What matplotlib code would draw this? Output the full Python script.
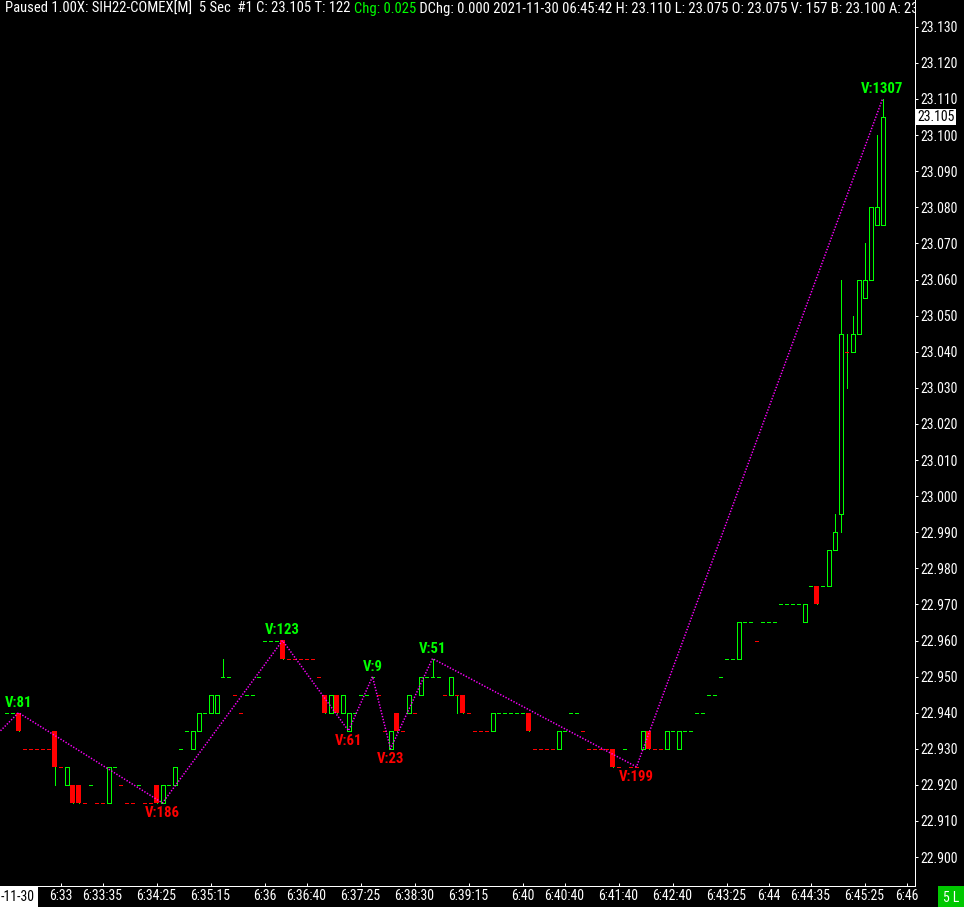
import os
import matplotlib
matplotlib.use("Agg")
import matplotlib.pyplot as plt
import matplotlib.transforms as mtransforms
from matplotlib import font_manager as fm
from matplotlib.patches import Rectangle

# 5 second bars, SIH22-COMEX, 2021-11-30 (bar index 0..146)
opens = [
    22.940, 22.940, 22.940, 22.930, 22.930, 22.930, 22.930, 22.930, 22.935, 22.925,
    22.920, 22.920, 22.920, 22.915, 22.920, 22.915, 22.915, 22.915, 22.925, 22.920,
    22.915, 22.915, 22.920, 22.915, 22.915, 22.920, 22.915, 22.920, 22.920, 22.930,
    22.935, 22.930, 22.935, 22.940, 22.940, 22.940, 22.950, 22.950, 22.945, 22.940,
    22.945, 22.945, 22.950, 22.960, 22.960, 22.960, 22.960, 22.955, 22.955, 22.955,
    22.955, 22.955, 22.950, 22.945, 22.940, 22.945, 22.940, 22.935, 22.940, 22.945,
    22.945, 22.950, 22.945, 22.935, 22.930, 22.940, 22.935, 22.940, 22.940, 22.945,
    22.950, 22.950, 22.950, 22.945, 22.945, 22.945, 22.945, 22.940, 22.935, 22.935,
    22.935, 22.935, 22.940, 22.940, 22.940, 22.940, 22.940, 22.940, 22.930, 22.930,
    22.930, 22.930, 22.930, 22.935, 22.940, 22.940, 22.935, 22.930, 22.930, 22.930,
    22.930, 22.930, 22.925, 22.930, 22.925, 22.925, 22.930, 22.935, 22.930, 22.930,
    22.930, 22.935, 22.930, 22.935, 22.935, 22.940, 22.940, 22.945, 22.945, 22.950,
    22.955, 22.955, 22.955, 22.965, 22.965, 22.960, 22.965, 22.965, 22.965, 22.970,
    22.970, 22.970, 22.970, 22.965, 22.975, 22.975, 22.975, 22.975, 22.985, 22.995,
    23.040, 23.040, 23.045, 23.055, 23.060, 23.075, 23.075,
]
highs = [
    22.940, 22.940, 22.940, 22.930, 22.930, 22.930, 22.930, 22.930, 22.935, 22.925,
    22.925, 22.920, 22.920, 22.915, 22.920, 22.915, 22.915, 22.925, 22.925, 22.920,
    22.915, 22.915, 22.920, 22.915, 22.915, 22.920, 22.920, 22.920, 22.925, 22.930,
    22.935, 22.935, 22.940, 22.940, 22.945, 22.945, 22.955, 22.950, 22.945, 22.940,
    22.945, 22.945, 22.950, 22.960, 22.960, 22.960, 22.960, 22.955, 22.955, 22.955,
    22.955, 22.955, 22.950, 22.945, 22.945, 22.945, 22.945, 22.940, 22.940, 22.945,
    22.945, 22.950, 22.945, 22.935, 22.935, 22.940, 22.935, 22.945, 22.940, 22.950,
    22.950, 22.955, 22.950, 22.945, 22.950, 22.945, 22.945, 22.940, 22.935, 22.935,
    22.935, 22.940, 22.940, 22.940, 22.940, 22.940, 22.940, 22.940, 22.930, 22.930,
    22.930, 22.930, 22.935, 22.935, 22.940, 22.940, 22.935, 22.930, 22.930, 22.930,
    22.930, 22.930, 22.925, 22.930, 22.925, 22.925, 22.935, 22.935, 22.930, 22.930,
    22.935, 22.935, 22.935, 22.935, 22.935, 22.940, 22.940, 22.945, 22.945, 22.950,
    22.955, 22.955, 22.965, 22.965, 22.965, 22.960, 22.965, 22.965, 22.965, 22.970,
    22.970, 22.970, 22.970, 22.970, 22.975, 22.975, 22.975, 22.985, 22.995, 23.060,
    23.045, 23.050, 23.060, 23.070, 23.080, 23.100, 23.110,
]
lows = [
    22.940, 22.940, 22.935, 22.930, 22.930, 22.930, 22.930, 22.930, 22.920, 22.925,
    22.920, 22.915, 22.915, 22.915, 22.920, 22.915, 22.915, 22.915, 22.925, 22.920,
    22.915, 22.915, 22.920, 22.915, 22.915, 22.915, 22.915, 22.920, 22.920, 22.930,
    22.935, 22.930, 22.935, 22.940, 22.940, 22.940, 22.950, 22.950, 22.945, 22.940,
    22.945, 22.945, 22.950, 22.960, 22.960, 22.960, 22.955, 22.955, 22.955, 22.955,
    22.955, 22.955, 22.950, 22.940, 22.940, 22.940, 22.940, 22.935, 22.940, 22.945,
    22.945, 22.950, 22.945, 22.935, 22.930, 22.935, 22.935, 22.940, 22.940, 22.945,
    22.950, 22.950, 22.950, 22.945, 22.945, 22.940, 22.940, 22.940, 22.935, 22.935,
    22.935, 22.935, 22.940, 22.940, 22.940, 22.940, 22.940, 22.935, 22.930, 22.930,
    22.930, 22.930, 22.930, 22.935, 22.940, 22.940, 22.935, 22.930, 22.930, 22.930,
    22.930, 22.925, 22.925, 22.930, 22.925, 22.925, 22.930, 22.930, 22.930, 22.930,
    22.930, 22.935, 22.930, 22.935, 22.935, 22.940, 22.940, 22.945, 22.945, 22.950,
    22.955, 22.955, 22.955, 22.965, 22.965, 22.960, 22.965, 22.965, 22.965, 22.970,
    22.970, 22.970, 22.970, 22.965, 22.975, 22.970, 22.975, 22.975, 22.985, 22.990,
    23.030, 23.040, 23.045, 23.055, 23.060, 23.075, 23.075,
]
closes = [
    22.940, 22.940, 22.935, 22.930, 22.930, 22.930, 22.930, 22.930, 22.925, 22.925,
    22.925, 22.915, 22.915, 22.915, 22.920, 22.915, 22.915, 22.925, 22.925, 22.920,
    22.915, 22.915, 22.920, 22.915, 22.915, 22.915, 22.920, 22.920, 22.925, 22.930,
    22.935, 22.935, 22.940, 22.940, 22.945, 22.945, 22.950, 22.950, 22.945, 22.940,
    22.945, 22.945, 22.950, 22.960, 22.960, 22.960, 22.955, 22.955, 22.955, 22.955,
    22.955, 22.955, 22.950, 22.940, 22.945, 22.940, 22.945, 22.940, 22.940, 22.945,
    22.945, 22.950, 22.945, 22.935, 22.935, 22.935, 22.935, 22.945, 22.940, 22.950,
    22.950, 22.950, 22.950, 22.945, 22.950, 22.945, 22.940, 22.940, 22.935, 22.935,
    22.935, 22.940, 22.940, 22.940, 22.940, 22.940, 22.940, 22.935, 22.930, 22.930,
    22.930, 22.930, 22.935, 22.935, 22.940, 22.940, 22.935, 22.930, 22.930, 22.930,
    22.930, 22.925, 22.925, 22.930, 22.925, 22.925, 22.935, 22.930, 22.930, 22.930,
    22.935, 22.935, 22.935, 22.935, 22.935, 22.940, 22.940, 22.945, 22.945, 22.950,
    22.955, 22.955, 22.965, 22.965, 22.965, 22.960, 22.965, 22.965, 22.965, 22.970,
    22.970, 22.970, 22.970, 22.970, 22.975, 22.970, 22.975, 22.985, 22.990, 23.045,
    23.040, 23.045, 23.060, 23.060, 23.080, 23.080, 23.105,
]

# zigzag swing points (bar index, price) and the volume shown at each swing
zz_bars = [-1, 2, 26, 46, 57, 61, 64, 71, 105, 146]
zz_prices = [22.935, 22.940, 22.915, 22.960, 22.935, 22.950, 22.930, 22.955, 22.925, 23.110]
zz_volumes = [None, 81, 186, 123, 61, 9, 23, 51, 199, 1307]

time_ticks = [9, 16, 25, 34, 43, 50, 59, 68, 77, 86, 93, 102, 111, 120, 127, 134, 143, 150]
time_labels = ["6:33", "6:33:35", "6:34:25", "6:35:15", "6:36", "6:36:40", "6:37:25",
               "6:38:30", "6:39:15", "6:40", "6:40:40", "6:41:40", "6:42:40", "6:43:25",
               "6:44", "6:44:35", "6:45:25", "6:46"]
price_ticks = [22.900 + 0.010 * k for k in range(24)]
last_price = 23.105

header_1 = "Paused 1.00X: SIH22-COMEX[M]  5 Sec  #1 C: 23.105 T: 122 "
header_2 = "Chg: 0.025"
header_3 = (" DChg: 0.000 2021-11-30 06:45:42 H: 23.110 L: 23.075 O: 23.075 "
            "V: 157 B: 23.100 A: 23.110")

GREEN = "#00ff00"
RED = "#ff0000"
MAGENTA = "#ff00ff"


# the chart uses a narrow screen font; take a narrow one if there is one
def pick_font(files, fallback_bold):
    have = {os.path.basename(f.fname): f.fname for f in fm.fontManager.ttflist}
    for name in files:
        if name in have:
            return fm.FontProperties(fname=have[name])
    return fm.FontProperties(family=["Liberation Sans", "DejaVu Sans"],
                             weight="bold" if fallback_bold else "normal")


fp_reg = pick_font(["LiberationSansNarrow-Regular.ttf", "RobotoCondensed-Regular.ttf",
                    "DejaVuSansCondensed.ttf"], False)
fp_bold = pick_font(["LiberationSansNarrow-Bold.ttf", "RobotoCondensed-Bold.ttf",
                     "DejaVuSansCondensed-Bold.ttf"], True)

W, H = 964, 907
fig = plt.figure(figsize=(W / 100, H / 100), dpi=100, facecolor="black")
r = fig.canvas.get_renderer()


def fit_size(text, fp, width_px):
    t = fig.text(0, 0, text, fontproperties=fp, fontsize=10)
    w = t.get_window_extent(r).width
    t.remove()
    return 10 * width_px / w


fs_axis = min(fit_size("23.130", fp_reg, 37), 10.5)
fs_head = min(fit_size(header_1.rstrip(), fp_reg, 349), 10.5)
fs_vol = min(fit_size("V:186", fp_bold, 35), 12.5)

# plot area: right price scale line at x=915, time scale line at y=886
ax = fig.add_axes([0, (H - 886) / H, 915 / W, 886 / H])
ax.set_facecolor("black")

px = 72 / 100  # points per pixel
ax.set_xlim(-6.5 / 6, (915 - 6.5) / 6)
ax.set_ylim(23.110 - (886 - 99) / 3610, 23.110 + 99 / 3610)

crisp = dict(antialiased=False, snap=True)
prev_col = GREEN
prev_close = None
for i in range(len(opens)):
    o, hi, lo, c = opens[i], highs[i], lows[i], closes[i]
    if c > o:
        col = GREEN
    elif c < o:
        col = RED
    else:
        if prev_close is None or abs(c - prev_close) < 1e-9:
            col = prev_col
        elif c > prev_close:
            col = GREEN
        else:
            col = RED
    if hi - lo > 1e-9:
        ax.vlines(i, lo, hi, color=GREEN, lw=1 * px, zorder=2, **crisp)
    if c > o:
        ax.add_patch(Rectangle((i - 2 / 6, o), 4 / 6, c - o, facecolor="black",
                               edgecolor=GREEN, lw=1 * px, zorder=3, **crisp))
    elif c < o:
        ax.add_patch(Rectangle((i - 2.5 / 6, c), 5 / 6, o - c, facecolor=RED,
                               edgecolor="none", zorder=3, **crisp))
    else:
        ax.hlines(o, i - 1.9 / 6, i + 1.9 / 6, color=col, lw=1 * px, zorder=3, **crisp)
    prev_col = col
    prev_close = c

ax.plot(zz_bars, zz_prices, color=MAGENTA, lw=1.5 * px, linestyle=(0, (0.9, 1.1)), zorder=5)
for k in range(1, len(zz_bars)):
    is_high = zz_prices[k] > zz_prices[k - 1]
    ax.annotate("V:%d" % zz_volumes[k], (zz_bars[k], zz_prices[k]),
                xytext=(0, 3 * px if is_high else -3 * px), textcoords="offset points",
                ha="center", va="bottom" if is_high else "top",
                color=GREEN if is_high else RED, fontproperties=fp_bold,
                fontsize=fs_vol, zorder=6)

for s in ["left", "top"]:
    ax.spines[s].set_visible(False)
for s in ["right", "bottom"]:
    ax.spines[s].set_color("white")
    ax.spines[s].set_linewidth(1 * px)

ax.yaxis.tick_right()
ax.set_yticks(price_ticks)
ax.set_yticklabels(["%.3f" % v for v in price_ticks])
ax.set_xticks(time_ticks)
ax.set_xticklabels(time_labels)
ax.tick_params(axis="both", colors="white", width=1 * px)
ax.tick_params(axis="y", direction="out", length=3 * px, pad=2.5 * px)
ax.tick_params(axis="x", direction="in", length=3 * px, pad=3 * px)
for lbl in ax.get_xticklabels() + ax.get_yticklabels():
    lbl.set_fontproperties(fp_reg)
    lbl.set_fontsize(fs_axis)

# last price marker on the scale
blend = mtransforms.blended_transform_factory(ax.transAxes, ax.transData)
ax.text(1.0 + 2 / 915, last_price, "%.3f" % last_price, transform=blend, ha="left",
        va="center", color="black", fontproperties=fp_reg, fontsize=fs_axis,
        clip_on=False, zorder=10,
        bbox=dict(boxstyle="square,pad=0.1", fc="white", ec="none"))

# header line, clipped at the price scale
hy = 1 - 9 / 886
t1 = ax.text(5 / 915, hy, header_1, transform=ax.transAxes, color="white",
             fontproperties=fp_reg, fontsize=fs_head, va="center", ha="left", clip_on=True)
x2 = ax.transAxes.inverted().transform(t1.get_window_extent(r))[1][0]
t2 = ax.text(x2, hy, header_2, transform=ax.transAxes, color=GREEN,
             fontproperties=fp_reg, fontsize=fs_head, va="center", ha="left", clip_on=True)
x3 = ax.transAxes.inverted().transform(t2.get_window_extent(r))[1][0]
ax.text(x3, hy, header_3, transform=ax.transAxes, color="white",
        fontproperties=fp_reg, fontsize=fs_head, va="center", ha="left", clip_on=True)

# date box bottom left and bar count box bottom right
fig.text(1 / W, (H - 897) / H, "-11-30", color="black", fontproperties=fp_reg,
         fontsize=fs_axis, ha="left", va="center",
         bbox=dict(boxstyle="square,pad=0.2", fc="white", ec="none"))
fig.text(951 / W, (H - 897.5) / H, "5 L", color="white", fontproperties=fp_reg,
         fontsize=fs_axis, ha="center", va="center",
         bbox=dict(boxstyle="square,pad=0.35", fc="#00c800", ec="none"))

fig.savefig("out.png", dpi=100, facecolor="black")
